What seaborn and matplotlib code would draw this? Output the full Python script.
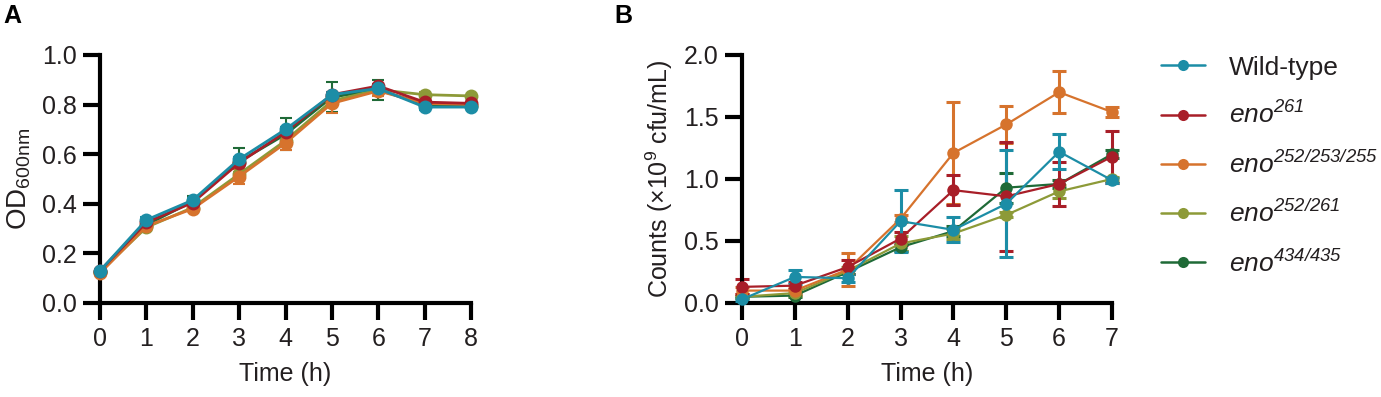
import numpy as np
import pandas as pd
import seaborn as sns
import matplotlib.pyplot as plt
from matplotlib.lines import Line2D

# ---- data ----
strains = ["Wild-type", "eno261", "eno252/253/255", "eno252/261", "eno434/435"]
labels = [r"Wild-type",
          r"$\mathsf{eno}^{\mathsf{261}}$",
          r"$\mathsf{eno}^{\mathsf{252/253/255}}$",
          r"$\mathsf{eno}^{\mathsf{252/261}}$",
          r"$\mathsf{eno}^{\mathsf{434/435}}$"]
colours = ["#1C8DA6", "#A81E28", "#D6732D", "#8D9A38", "#1F6A37"]

# panel A: OD600
time_a = [0, 1, 2, 3, 4, 5, 6, 7, 8]
wt_a = [0.13, 0.335, 0.415, 0.58, 0.70, 0.84, 0.865, 0.79, 0.79]
eno261_a = [0.13, 0.325, 0.405, 0.565, 0.69, 0.84, 0.875, 0.81, 0.805]
eno252_253_255_a = [0.12, 0.31, 0.38, 0.51, 0.645, 0.805, 0.855, 0.805, 0.80]
eno252_261_a = [0.125, 0.305, 0.385, 0.52, 0.655, 0.815, 0.86, 0.84, 0.835]
eno434_435_a = [0.125, 0.315, 0.41, 0.57, 0.68, 0.83, 0.86, 0.80, 0.795]
wt_a_sd = [0.005, 0.01, 0.01, 0.01, 0.01, 0.01, 0.01, 0.01, 0.005]
eno261_a_sd = [0.005, 0.01, 0.01, 0.01, 0.01, 0.01, 0.01, 0.01, 0.005]
eno252_253_255_a_sd = [0.005, 0.01, 0.01, 0.03, 0.03, 0.04, 0.02, 0.01, 0.005]
eno252_261_a_sd = [0.005, 0.01, 0.01, 0.01, 0.01, 0.01, 0.01, 0.01, 0.005]
eno434_435_a_sd = [0.005, 0.01, 0.02, 0.055, 0.065, 0.06, 0.04, 0.01, 0.005]

# panel B: counts (x10^9 cfu/mL)
time_b = [0, 1, 2, 3, 4, 5, 6, 7]
wt_b = [0.03, 0.21, 0.20, 0.66, 0.59, 0.80, 1.22, 0.99]
eno261_b = [0.13, 0.14, 0.29, 0.52, 0.91, 0.86, 0.96, 1.18]
eno252_253_255_b = [0.10, 0.10, 0.27, 0.68, 1.21, 1.44, 1.70, 1.54]
eno252_261_b = [0.05, 0.08, 0.26, 0.48, 0.56, 0.71, 0.90, 1.00]
eno434_435_b = [0.05, 0.06, 0.25, 0.45, 0.58, 0.93, 0.96, 1.20]
wt_b_sd = [0.01, 0.06, 0.03, 0.25, 0.10, 0.43, 0.14, 0.02]
eno261_b_sd = [0.06, 0.03, 0.06, 0.05, 0.12, 0.44, 0.18, 0.21]
eno252_253_255_b_sd = [0.03, 0.03, 0.13, 0.03, 0.41, 0.15, 0.17, 0.04]
eno252_261_b_sd = [0.01, 0.02, 0.03, 0.06, 0.04, 0.02, 0.05, 0.02]
eno434_435_b_sd = [0.01, 0.01, 0.02, 0.03, 0.04, 0.12, 0.03, 0.03]


def long_df(time, means, sds):
    rows = []
    for s, m, e in zip(strains, means, sds):
        for t, v, d in zip(time, m, e):
            rows.append({"time": t, "value": v, "sd": d, "strain": s})
    return pd.DataFrame(rows)


df_a = long_df(time_a, [wt_a, eno261_a, eno252_253_255_a, eno252_261_a, eno434_435_a],
               [wt_a_sd, eno261_a_sd, eno252_253_255_a_sd, eno252_261_a_sd, eno434_435_a_sd])
df_b = long_df(time_b, [wt_b, eno261_b, eno252_253_255_b, eno252_261_b, eno434_435_b],
               [wt_b_sd, eno261_b_sd, eno252_253_255_b_sd, eno252_261_b_sd, eno434_435_b_sd])

sns.set_style("ticks")
plt.rcParams["font.family"] = ["Liberation Sans", "DejaVu Sans"]
plt.rcParams["mathtext.fontset"] = "custom"
plt.rcParams["mathtext.rm"] = "Liberation Sans"
plt.rcParams["mathtext.it"] = "Liberation Sans:italic"
plt.rcParams["mathtext.sf"] = "Liberation Sans:italic"  # italic digits in superscripts
plt.rcParams["mathtext.bf"] = "Liberation Sans:bold"
ink = "#231F20"
plt.rcParams["text.color"] = ink
plt.rcParams["axes.labelcolor"] = ink
plt.rcParams["xtick.color"] = "black"
plt.rcParams["ytick.color"] = "black"
plt.rcParams["xtick.labelcolor"] = ink
plt.rcParams["ytick.labelcolor"] = ink

palette = dict(zip(strains, colours))
draw_order = strains[::-1]  # wild-type on top

fig = plt.figure(figsize=(13.81, 3.97), dpi=100)
ax_a = fig.add_axes([100 / 1381, 1 - 303 / 397, 371 / 1381, 248 / 397])
ax_b = fig.add_axes([742 / 1381, 1 - 303 / 397, 370 / 1381, 248 / 397])


def draw(ax, df, lw, ms, cap, elw):
    for s in draw_order:
        sub = df[df.strain == s]
        ax.errorbar(sub.time, sub.value, yerr=sub.sd, fmt="none", ecolor=palette[s],
                    elinewidth=elw, capsize=cap, capthick=elw, clip_on=False, zorder=2)
    sns.lineplot(data=df, x="time", y="value", hue="strain", hue_order=draw_order,
                 palette=palette, marker="o", markersize=ms, markeredgewidth=0,
                 linewidth=lw, ax=ax, legend=False, clip_on=False, zorder=3)
    for ln in ax.lines:
        ln.set_clip_on(False)


draw(ax_a, df_a, 2.0, 10, 4, 1.5)
draw(ax_b, df_b, 1.6, 9, 5, 2.2)

for ax in (ax_a, ax_b):
    sns.despine(ax=ax)
    for sp in ("left", "bottom"):
        ax.spines[sp].set_linewidth(3)
        ax.spines[sp].set_color("black")
    ax.tick_params(width=3, length=12, labelsize=18, pad=5)
    ax.set_xlabel("Time (h)", fontsize=18, labelpad=8)

ax_a.set_xlim(0, 8)
ax_a.set_ylim(0, 1.0)
ax_a.set_xticks(time_a)
ax_a.set_yticks([0.0, 0.2, 0.4, 0.6, 0.8, 1.0])
ax_a.set_yticklabels(["0.0", "0.2", "0.4", "0.6", "0.8", "1.0"])
ax_a.set_ylabel(r"OD$_{\mathrm{600nm}}$", fontsize=20, labelpad=6)

ax_b.set_xlim(0, 7)
ax_b.set_ylim(0, 2.0)
ax_b.set_xticks(time_b)
ax_b.set_yticks([0.0, 0.5, 1.0, 1.5, 2.0])
ax_b.set_yticklabels(["0.0", "0.5", "1.0", "1.5", "2.0"])
ax_b.set_ylabel(r"Counts (×10$^{9}$ cfu/mL)", fontsize=18, labelpad=6)

handles = [Line2D([], [], color=c, marker="o", markersize=8, markeredgewidth=0, linewidth=1.8)
           for c in colours]
fig.legend(handles, labels, loc="upper left", bbox_to_anchor=(1150 / 1381, 1 - 45 / 397),
           frameon=False, fontsize=19, handlelength=1.7, handletextpad=0.9,
           labelspacing=0.84, borderaxespad=0)

fig.text(3 / 1381, 1 - 4 / 397, "A", fontsize=18, fontweight="bold", va="top", ha="left",
         color="black")
fig.text(614 / 1381, 1 - 4 / 397, "B", fontsize=18, fontweight="bold", va="top", ha="left",
         color="black")

fig.savefig("out.png", dpi=100)
